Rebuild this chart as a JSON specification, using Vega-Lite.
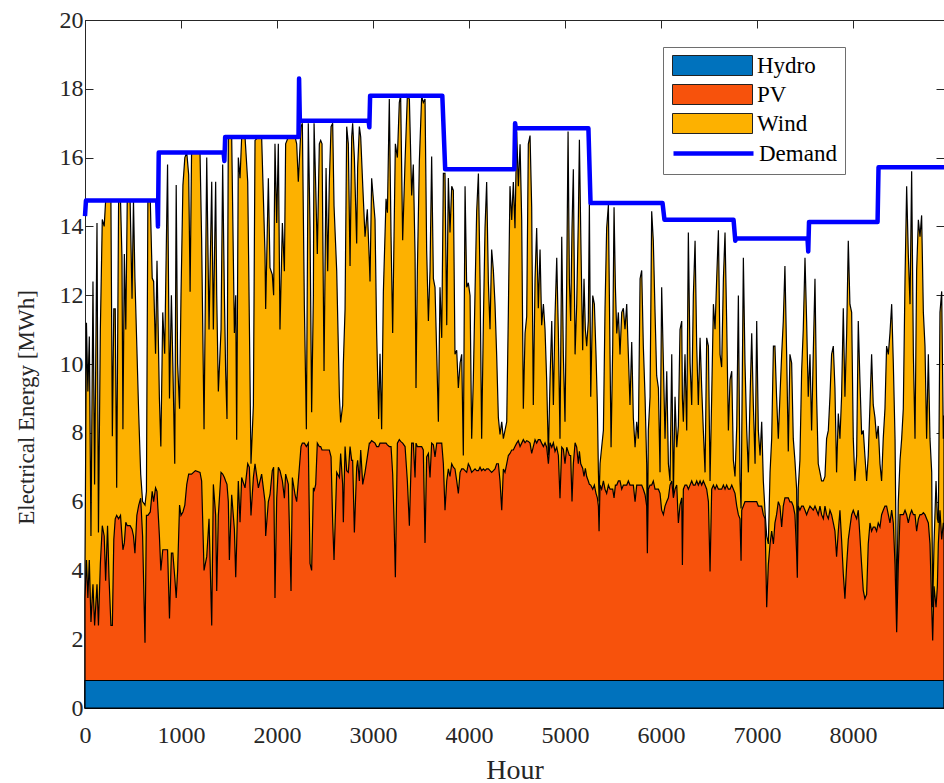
{
  "$schema": "https://vega.github.io/schema/vega-lite/v6.json",
  "width": 859,
  "height": 688,
  "autosize": {"type": "none"},
  "padding": {"left": 85, "top": 20, "right": 0, "bottom": 75},
  "background": "white",
  "config": {
    "view": {"stroke": null},
    "font": "Liberation Serif",
    "axis": {
      "labelFont": "Liberation Serif",
      "titleFont": "Liberation Serif",
      "labelColor": "#262626",
      "titleColor": "#262626",
      "domainColor": "#262626",
      "tickColor": "#262626",
      "grid": false,
      "labelFlush": false,
      "titleFontWeight": "normal"
    }
  },
  "datasets": {
    "gen": [
      {"h":0,"p":3.2,"w":4.2},{"h":15,"p":4.3,"w":11.2},{"h":30,"p":3.2,"w":9.2},{"h":45,"p":4.3,"w":10.8},{"h":62,"p":2.5,"w":5.0},{"h":83,"p":3.6,"w":12.4},{"h":100,"p":2.4,"w":6.5},{"h":125,"p":3.6,"w":14.1},{"h":140,"p":2.4,"w":5.1},{"h":160,"p":4.2,"w":11.0},{"h":180,"p":5.3,"w":14.2},{"h":200,"p":5.0,"w":14.0},{"h":215,"p":3.7,"w":14.75},{"h":235,"p":5.3,"w":14.75},{"h":250,"p":3.8,"w":14.75},{"h":270,"p":2.4,"w":14.75},{"h":285,"p":2.4,"w":7.9},{"h":300,"p":4.9,"w":11.6},{"h":315,"p":5.5,"w":11.6},{"h":330,"p":5.6,"w":6.4},{"h":350,"p":5.5,"w":14.75},{"h":370,"p":5.6,"w":14.75},{"h":385,"p":5.0,"w":13.1},{"h":395,"p":4.6,"w":8.1},{"h":410,"p":4.8,"w":13.2},{"h":425,"p":5.4,"w":11.0},{"h":440,"p":5.3,"w":14.75},{"h":470,"p":5.3,"w":14.75},{"h":490,"p":5.2,"w":11.9},{"h":505,"p":5.0,"w":14.75},{"h":520,"p":4.5,"w":12.5},{"h":540,"p":5.6,"w":10.5},{"h":560,"p":5.9,"w":8.5},{"h":580,"p":6.1,"w":6.8},{"h":600,"p":5.0,"w":6.0},{"h":625,"p":1.9,"w":5.9},{"h":640,"p":5.6,"w":6.3},{"h":655,"p":5.6,"w":14.75},{"h":680,"p":5.7,"w":14.75},{"h":700,"p":6.3,"w":12.5},{"h":715,"p":6.0,"w":12.4},{"h":735,"p":6.4,"w":10.3},{"h":750,"p":6.3,"w":13.0},{"h":775,"p":5.0,"w":9.0},{"h":790,"p":4.0,"w":7.6},{"h":810,"p":4.6,"w":11.5},{"h":830,"p":4.6,"w":10.3},{"h":860,"p":4.6,"w":15.8},{"h":880,"p":2.6,"w":9.0},{"h":900,"p":4.5,"w":12.0},{"h":915,"p":4.5,"w":10.0},{"h":935,"p":3.8,"w":7.1},{"h":950,"p":3.2,"w":15.2},{"h":965,"p":4.0,"w":10.0},{"h":985,"p":5.9,"w":8.7},{"h":1000,"p":5.6,"w":12.0},{"h":1020,"p":5.7,"w":15.2},{"h":1040,"p":5.9,"w":16.0},{"h":1060,"p":6.5,"w":16.15},{"h":1080,"p":6.8,"w":15.5},{"h":1095,"p":6.8,"w":12.1},{"h":1110,"p":6.8,"w":16.15},{"h":1150,"p":6.9,"w":16.15},
      {"h":1198,"p":6.85,"w":16.15},{"h":1215,"p":6.6,"w":13.6},{"h":1240,"p":4.0,"w":8.1},{"h":1268,"p":4.4,"w":16.0},{"h":1292,"p":5.5,"w":11.0},{"h":1320,"p":2.4,"w":15.3},{"h":1337,"p":6.5,"w":11.0},{"h":1361,"p":5.6,"w":15.3},{"h":1372,"p":3.4,"w":12.0},{"h":1389,"p":5.6,"w":9.2},{"h":1417,"p":6.85,"w":11.0},{"h":1434,"p":6.8,"w":15.8},{"h":1452,"p":6.7,"w":12.0},{"h":1465,"p":6.6,"w":9.8},{"h":1479,"p":6.5,"w":8.4},{"h":1493,"p":6.0,"w":16.6},{"h":1504,"p":4.3,"w":16.6},{"h":1528,"p":6.2,"w":16.6},{"h":1556,"p":5.2,"w":10.9},{"h":1570,"p":3.8,"w":12.0},{"h":1580,"p":4.8,"w":7.8},{"h":1597,"p":6.6,"w":16.0},{"h":1615,"p":5.4,"w":15.4},{"h":1632,"p":6.7,"w":16.6},{"h":1667,"p":6.4,"w":16.6},{"h":1695,"p":7.1,"w":15.3},{"h":1712,"p":7.0,"w":11.25},{"h":1729,"p":5.6,"w":7.1},{"h":1754,"p":6.7,"w":8.8},{"h":1771,"p":7.1,"w":16.5},{"h":1806,"p":6.4,"w":16.6},{"h":1840,"p":6.8,"w":16.6},{"h":1875,"p":6.0,"w":13.2},{"h":1882,"p":5.0,"w":11.6},{"h":1910,"p":6.0,"w":15.4},{"h":1927,"p":6.2,"w":12.8},{"h":1951,"p":6.9,"w":12.6},{"h":1965,"p":7.0,"w":12.0},{"h":1979,"p":3.2,"w":16.4},{"h":1997,"p":6.1,"w":14.1},{"h":2014,"p":7.0,"w":16.4},{"h":2031,"p":6.9,"w":11.0},{"h":2056,"p":6.6,"w":14.1},{"h":2077,"p":6.1,"w":12.7},{"h":2090,"p":6.8,"w":16.4},{"h":2118,"p":6.5,"w":16.6},{"h":2146,"p":3.4,"w":16.6},{"h":2160,"p":6.7,"w":16.6},{"h":2188,"p":6.2,"w":16.6},{"h":2205,"p":6.0,"w":16.4},{"h":2222,"p":6.6,"w":15.3},{"h":2250,"p":7.6,"w":16.9},{"h":2264,"p":7.7,"w":17.0},{"h":2285,"p":7.7,"w":11.7},{"h":2306,"p":7.6,"w":8.1},{"h":2326,"p":7.7,"w":17.0},
      {"h":2344,"p":4.2,"w":14.0},{"h":2361,"p":4.0,"w":8.6},{"h":2379,"p":6.4,"w":12.0},{"h":2386,"p":6.3,"w":17.0},{"h":2403,"p":6.5,"w":15.2},{"h":2420,"p":7.7,"w":13.2},{"h":2441,"p":7.6,"w":16.4},{"h":2455,"p":7.6,"w":16.5},{"h":2469,"p":7.5,"w":16.4},{"h":2490,"p":7.5,"w":9.8},{"h":2511,"p":7.5,"w":15.7},{"h":2528,"p":7.5,"w":12.7},{"h":2545,"p":7.5,"w":15.3},{"h":2563,"p":7.3,"w":16.9},{"h":2580,"p":5.4,"w":17.0},{"h":2594,"p":4.3,"w":14.6},{"h":2622,"p":6.85,"w":12.7},{"h":2650,"p":6.7,"w":9.05},{"h":2663,"p":7.4,"w":8.3},{"h":2684,"p":6.5,"w":8.8},{"h":2691,"p":5.4,"w":10.0},{"h":2709,"p":7.6,"w":11.6},{"h":2726,"p":6.9,"w":16.9},{"h":2743,"p":6.85,"w":16.4},{"h":2761,"p":7.6,"w":12.85},{"h":2778,"p":7.2,"w":16.6},{"h":2788,"p":7.2,"w":17.0},{"h":2806,"p":5.1,"w":16.0},{"h":2830,"p":7.0,"w":13.5},{"h":2840,"p":7.2,"w":15.7},{"h":2858,"p":6.6,"w":16.9},{"h":2872,"p":7.5,"w":16.6},{"h":2893,"p":6.5,"w":15.2},{"h":2917,"p":6.85,"w":13.7},{"h":2941,"p":7.3,"w":14.5},{"h":2962,"p":7.7,"w":12.97},{"h":2969,"p":7.7,"w":12.4},{"h":2986,"p":7.77,"w":15.4},{"h":3021,"p":7.7,"w":14.2},{"h":3038,"p":7.6,"w":10.9},{"h":3059,"p":7.6,"w":8.4},{"h":3073,"p":7.7,"w":10.3},{"h":3090,"p":7.7,"w":8.1},{"h":3108,"p":7.7,"w":12.1},{"h":3136,"p":7.7,"w":14.8},{"h":3150,"p":7.65,"w":14.4},{"h":3170,"p":7.6,"w":17.7},{"h":3188,"p":7.6,"w":13.7},{"h":3205,"p":6.8,"w":10.9},{"h":3219,"p":5.5,"w":13.7},{"h":3233,"p":3.8,"w":16.4},{"h":3254,"p":7.7,"w":16.0},{"h":3274,"p":7.8,"w":17.6},{"h":3288,"p":7.75,"w":17.8},{"h":3309,"p":7.7,"w":13.6},{"h":3334,"p":7.6,"w":15.9},{"h":3358,"p":6.6,"w":17.8},{"h":3379,"p":5.3,"w":17.7},{"h":3403,"p":7.7,"w":14.9},{"h":3420,"p":7.7,"w":15.8},{"h":3438,"p":6.7,"w":13.2},{"h":3448,"p":7.7,"w":9.3},{"h":3462,"p":7.6,"w":12.7},{"h":3483,"p":7.6,"w":15.9},{"h":3507,"p":7.6,"w":17.8},{"h":3524,"p":7.5,"w":17.6},{"h":3542,"p":4.8,"w":17.7},{"h":3559,"p":7.3,"w":13.3},{"h":3577,"p":7.4,"w":11.25},
      {"h":3594,"p":6.7,"w":12.72},{"h":3611,"p":7.7,"w":16.03},{"h":3629,"p":7.65,"w":12.48},{"h":3646,"p":7.3,"w":12.23},{"h":3664,"p":7.7,"w":10.28},{"h":3681,"p":7.7,"w":8.32},{"h":3698,"p":7.7,"w":12.23},{"h":3716,"p":7.7,"w":10.76},{"h":3733,"p":7.1,"w":15.54},{"h":3750,"p":5.75,"w":15.54},{"h":3768,"p":6.6,"w":11.13},{"h":3785,"p":6.95,"w":15.41},{"h":3802,"p":6.73,"w":13.82},{"h":3820,"p":7.1,"w":15.17},{"h":3837,"p":7.0,"w":15.05},{"h":3854,"p":6.95,"w":10.28},{"h":3872,"p":6.6,"w":10.4},{"h":3889,"p":6.24,"w":9.3},{"h":3907,"p":6.85,"w":10.03},{"h":3924,"p":6.95,"w":10.28},{"h":3941,"p":6.95,"w":7.34},{"h":3959,"p":6.9,"w":15.17},{"h":3976,"p":6.85,"w":12.23},{"h":3993,"p":7.1,"w":12.36},{"h":4011,"p":7.0,"w":11.99},{"h":4028,"p":6.85,"w":7.83},{"h":4045,"p":6.9,"w":9.54},{"h":4063,"p":6.95,"w":12.11},{"h":4080,"p":6.9,"w":14.44},{"h":4098,"p":6.9,"w":15.54},{"h":4115,"p":7.0,"w":12.48},{"h":4132,"p":6.9,"w":7.83},{"h":4150,"p":6.95,"w":11.25},{"h":4167,"p":6.9,"w":13.95},{"h":4184,"p":6.95,"w":15.29},{"h":4202,"p":6.95,"w":12.36},{"h":4219,"p":6.9,"w":11.01},{"h":4236,"p":6.85,"w":13.33},{"h":4254,"p":6.9,"w":12.72},{"h":4271,"p":6.95,"w":11.74},{"h":4288,"p":7.1,"w":10.28},{"h":4306,"p":7.1,"w":8.44},{"h":4323,"p":6.6,"w":7.95},{"h":4341,"p":5.75,"w":8.32},{"h":4358,"p":6.95,"w":7.83},{"h":4375,"p":6.85,"w":8.07},{"h":4393,"p":7.1,"w":8.32},{"h":4410,"p":7.34,"w":11.5},{"h":4427,"p":7.4,"w":15.17},{"h":4445,"p":7.5,"w":14.19},{"h":4462,"p":7.5,"w":15.29},{"h":4479,"p":7.6,"w":13.95},{"h":4497,"p":7.7,"w":16.76},{"h":4514,"p":7.77,"w":15.17},{"h":4532,"p":7.6,"w":16.39},{"h":4549,"p":7.7,"w":14.19},{"h":4566,"p":7.8,"w":8.7},{"h":4584,"p":7.71,"w":10.89},{"h":4601,"p":7.77,"w":11.38},{"h":4618,"p":7.75,"w":16.39},{"h":4636,"p":7.7,"w":16.64},{"h":4653,"p":7.4,"w":14.56},{"h":4670,"p":7.6,"w":8.81},{"h":4688,"p":7.8,"w":12.48},{"h":4705,"p":7.7,"w":13.95},{"h":4722,"p":7.8,"w":11.62},{"h":4740,"p":7.8,"w":13.33},{"h":4757,"p":7.7,"w":11.13},{"h":4775,"p":7.6,"w":11.74},
      {"h":4792,"p":7.71,"w":11.01},{"h":4809,"p":7.58,"w":9.54},{"h":4827,"p":7.1,"w":7.34},{"h":4844,"p":7.71,"w":9.54},{"h":4862,"p":7.58,"w":11.25},{"h":4879,"p":7.71,"w":8.81},{"h":4896,"p":7.46,"w":11.38},{"h":4914,"p":7.58,"w":13.09},{"h":4931,"p":7.34,"w":10.89},{"h":4948,"p":6.1,"w":7.83},{"h":4966,"p":7.58,"w":13.7},{"h":4983,"p":7.52,"w":10.28},{"h":5000,"p":7.1,"w":8.32},{"h":5018,"p":7.58,"w":12.48},{"h":5032,"p":7.46,"w":16.76},{"h":5046,"p":7.34,"w":12.36},{"h":5059,"p":7.34,"w":11.25},{"h":5073,"p":6.0,"w":13.95},{"h":5087,"p":7.1,"w":15.66},{"h":5105,"p":7.71,"w":10.28},{"h":5122,"p":7.58,"w":11.74},{"h":5139,"p":7.1,"w":14.19},{"h":5150,"p":7.46,"w":16.52},{"h":5164,"p":7.1,"w":13.82},{"h":5184,"p":6.97,"w":10.4},{"h":5198,"p":6.73,"w":12.48},{"h":5212,"p":6.97,"w":11.01},{"h":5226,"p":6.73,"w":10.52},{"h":5243,"p":6.6,"w":11.25},{"h":5254,"p":6.5,"w":14.68},{"h":5268,"p":6.48,"w":9.05},{"h":5289,"p":6.36,"w":11.99},{"h":5306,"p":6.48,"w":11.74},{"h":5323,"p":6.24,"w":10.28},{"h":5337,"p":6.11,"w":8.81},{"h":5348,"p":5.87,"w":6.85},{"h":5355,"p":5.14,"w":6.0},{"h":5365,"p":6.48,"w":7.1},{"h":5382,"p":6.36,"w":7.58},{"h":5400,"p":6.6,"w":8.07},{"h":5417,"p":6.36,"w":11.62},{"h":5434,"p":6.24,"w":13.95},{"h":5452,"p":6.48,"w":14.62},{"h":5469,"p":6.36,"w":10.28},{"h":5480,"p":6.36,"w":7.58},{"h":5497,"p":6.36,"w":10.52},{"h":5511,"p":6.11,"w":14.56},{"h":5525,"p":6.48,"w":12.23},{"h":5539,"p":6.48,"w":10.89},{"h":5556,"p":6.6,"w":11.5},{"h":5573,"p":6.6,"w":10.28},{"h":5591,"p":6.36,"w":11.5},{"h":5608,"p":6.48,"w":11.62},{"h":5625,"p":6.48,"w":11.01},{"h":5643,"p":6.48,"w":11.74},{"h":5660,"p":6.6,"w":10.28},{"h":5677,"p":6.48,"w":8.81},{"h":5695,"p":6.48,"w":10.64},{"h":5712,"p":6.48,"w":8.44},{"h":5730,"p":6.0,"w":7.58},{"h":5747,"p":6.48,"w":8.32},{"h":5764,"p":6.48,"w":7.83},{"h":5782,"p":6.48,"w":12.48},{"h":5799,"p":6.48,"w":12.72},{"h":5816,"p":6.36,"w":10.52},{"h":5834,"p":6.2,"w":9.05},{"h":5851,"p":5.87,"w":7.1},{"h":5858,"p":4.5,"w":4.6},{"h":5868,"p":6.36,"w":8.07},{"h":5886,"p":6.48,"w":9.05},{"h":5903,"p":6.48,"w":14.44},{"h":5920,"p":6.6,"w":13.58},{"h":5938,"p":6.36,"w":11.5},{"h":5955,"p":6.36,"w":9.66},{"h":5973,"p":6.36,"w":9.3},
      {"h":5990,"p":6.24,"w":6.85},{"h":6007,"p":5.75,"w":12.23},{"h":6025,"p":5.62,"w":10.03},{"h":6042,"p":5.87,"w":7.83},{"h":6060,"p":6.0,"w":9.79},{"h":6077,"p":6.11,"w":7.1},{"h":6094,"p":6.48,"w":6.6},{"h":6112,"p":6.6,"w":10.28},{"h":6129,"p":6.11,"w":6.2},{"h":6146,"p":6.36,"w":9.05},{"h":6164,"p":6.48,"w":7.58},{"h":6181,"p":5.38,"w":8.2},{"h":6198,"p":5.9,"w":11.0},{"h":6216,"p":6.11,"w":11.25},{"h":6223,"p":4.16,"w":9.0},{"h":6233,"p":6.36,"w":8.32},{"h":6250,"p":6.48,"w":10.28},{"h":6268,"p":6.48,"w":8.07},{"h":6285,"p":6.36,"w":13.82},{"h":6303,"p":6.48,"w":10.03},{"h":6320,"p":6.6,"w":8.81},{"h":6337,"p":6.48,"w":11.99},{"h":6355,"p":6.48,"w":13.58},{"h":6372,"p":6.6,"w":10.52},{"h":6389,"p":6.48,"w":8.81},{"h":6407,"p":6.6,"w":10.76},{"h":6424,"p":6.48,"w":9.3},{"h":6441,"p":6.6,"w":8.07},{"h":6459,"p":6.48,"w":6.85},{"h":6476,"p":6.36,"w":10.76},{"h":6494,"p":6.0,"w":10.52},{"h":6511,"p":3.97,"w":6.6},{"h":6528,"p":6.36,"w":9.05},{"h":6546,"p":6.48,"w":11.74},{"h":6563,"p":6.36,"w":11.01},{"h":6580,"p":6.48,"w":12.48},{"h":6598,"p":6.36,"w":13.89},{"h":6615,"p":6.36,"w":10.28},{"h":6632,"p":6.36,"w":9.91},{"h":6650,"p":6.48,"w":12.48},{"h":6667,"p":6.36,"w":13.82},{"h":6684,"p":6.48,"w":11.25},{"h":6702,"p":6.36,"w":8.07},{"h":6719,"p":6.36,"w":9.54},{"h":6737,"p":6.48,"w":9.79},{"h":6754,"p":6.36,"w":7.2},{"h":6771,"p":6.24,"w":6.73},{"h":6789,"p":5.87,"w":8.2},{"h":6806,"p":5.62,"w":11.99},{"h":6823,"p":5.5,"w":6.6},{"h":6834,"p":4.28,"w":5.8},{"h":6841,"p":5.75,"w":7.83},{"h":6858,"p":5.87,"w":13.09},{"h":6875,"p":6.0,"w":10.03},{"h":6893,"p":6.0,"w":8.07},{"h":6910,"p":6.0,"w":6.85},{"h":6928,"p":6.0,"w":9.05},{"h":6945,"p":6.0,"w":10.89},{"h":6962,"p":6.0,"w":8.81},{"h":6980,"p":6.0,"w":7.1},{"h":6997,"p":6.0,"w":11.25},{"h":7014,"p":5.87,"w":8.07},{"h":7032,"p":5.87,"w":7.34},{"h":7049,"p":5.87,"w":8.32},{"h":7066,"p":5.62,"w":6.6},{"h":7084,"p":5.5,"w":5.7},{"h":7101,"p":2.93,"w":5.0},{"h":7118,"p":4.16,"w":4.77},{"h":7136,"p":4.77,"w":6.85},{"h":7153,"p":5.14,"w":7.83},{"h":7171,"p":4.77,"w":10.52},
      {"h":7187,"p":5.38,"w":10.52},{"h":7204,"p":5.62,"w":9.05},{"h":7222,"p":6.0,"w":7.83},{"h":7239,"p":5.87,"w":9.05},{"h":7257,"p":5.26,"w":10.28},{"h":7274,"p":5.87,"w":11.25},{"h":7291,"p":6.11,"w":12.85},{"h":7309,"p":6.11,"w":10.28},{"h":7326,"p":6.11,"w":7.46},{"h":7343,"p":5.99,"w":10.28},{"h":7361,"p":5.99,"w":10.03},{"h":7378,"p":5.87,"w":7.83},{"h":7395,"p":5.62,"w":7.2},{"h":7413,"p":4.5,"w":6.36},{"h":7420,"p":3.79,"w":4.0},{"h":7430,"p":5.87,"w":6.4},{"h":7447,"p":5.75,"w":7.2},{"h":7465,"p":5.87,"w":9.79},{"h":7482,"p":5.87,"w":11.0},{"h":7500,"p":5.75,"w":13.09},{"h":7517,"p":5.62,"w":11.25},{"h":7534,"p":5.75,"w":9.05},{"h":7552,"p":5.87,"w":10.28},{"h":7569,"p":5.81,"w":8.07},{"h":7586,"p":5.75,"w":10.28},{"h":7604,"p":5.87,"w":12.48},{"h":7621,"p":5.75,"w":9.05},{"h":7638,"p":5.62,"w":7.1},{"h":7656,"p":5.87,"w":6.85},{"h":7673,"p":5.62,"w":6.6},{"h":7691,"p":5.5,"w":6.6},{"h":7708,"p":5.87,"w":6.73},{"h":7725,"p":5.62,"w":7.83},{"h":7743,"p":5.5,"w":8.07},{"h":7760,"p":5.75,"w":9.05},{"h":7777,"p":5.62,"w":10.28},{"h":7795,"p":5.38,"w":10.52},{"h":7812,"p":5.14,"w":9.3},{"h":7829,"p":4.4,"w":6.85},{"h":7847,"p":5.14,"w":8.56},{"h":7864,"p":5.75,"w":7.83},{"h":7881,"p":4.9,"w":9.05},{"h":7899,"p":3.9,"w":11.62},{"h":7916,"p":3.18,"w":9.05},{"h":7934,"p":4.16,"w":10.89},{"h":7951,"p":4.9,"w":13.58},{"h":7968,"p":5.26,"w":11.74},{"h":7986,"p":5.62,"w":11.5},{"h":8003,"p":5.75,"w":7.83},{"h":8020,"p":5.62,"w":6.6},{"h":8038,"p":5.5,"w":7.34},{"h":8055,"p":5.75,"w":11.25},{"h":8072,"p":5.0,"w":9.54},{"h":8090,"p":4.16,"w":7.95},{"h":8107,"p":3.42,"w":8.07},{"h":8124,"p":3.18,"w":7.34},{"h":8142,"p":3.3,"w":6.6},{"h":8159,"p":4.77,"w":7.34},{"h":8177,"p":5.38,"w":8.81},{"h":8194,"p":5.14,"w":10.28},{"h":8211,"p":5.26,"w":8.81},{"h":8229,"p":5.26,"w":8.44},{"h":8246,"p":5.14,"w":7.83},{"h":8263,"p":5.38,"w":8.2},{"h":8281,"p":5.26,"w":7.1},{"h":8298,"p":5.62,"w":6.6},{"h":8315,"p":5.75,"w":7.83},{"h":8333,"p":5.87,"w":8.7},{"h":8350,"p":5.87,"w":10.52},{"h":8368,"p":5.62,"w":10.28},
      {"h":8385,"p":5.38,"w":10.89},{"h":8403,"p":5.75,"w":11.74},{"h":8420,"p":5.38,"w":10.03},{"h":8438,"p":4.16,"w":7.83},{"h":8455,"p":2.2,"w":2.9},{"h":8472,"p":4.16,"w":6.0},{"h":8490,"p":5.62,"w":7.2},{"h":8507,"p":5.62,"w":7.83},{"h":8524,"p":5.62,"w":8.7},{"h":8542,"p":5.75,"w":12.48},{"h":8559,"p":5.62,"w":15.17},{"h":8576,"p":5.38,"w":13.21},{"h":8594,"p":5.62,"w":11.74},{"h":8611,"p":5.75,"w":15.6},{"h":8629,"p":5.62,"w":10.28},{"h":8646,"p":5.62,"w":7.83},{"h":8663,"p":5.14,"w":12.72},{"h":8681,"p":5.5,"w":14.19},{"h":8698,"p":5.62,"w":13.7},{"h":8715,"p":5.62,"w":14.32},{"h":8733,"p":5.68,"w":11.5},{"h":8750,"p":5.62,"w":10.52},{"h":8767,"p":5.5,"w":7.83},{"h":8785,"p":5.38,"w":10.28},{"h":8802,"p":4.77,"w":7.83},{"h":8820,"p":2.93,"w":6.85},{"h":8830,"p":1.96,"w":2.93},{"h":8844,"p":3.54,"w":4.77},{"h":8865,"p":2.93,"w":6.6},{"h":8879,"p":3.54,"w":5.5},{"h":8889,"p":4.77,"w":5.38},{"h":8906,"p":5.75,"w":11.5},{"h":8924,"p":4.9,"w":12.11},{"h":8941,"p":5.38,"w":7.83},{"h":8948,"p":5.3,"w":8.5}
    ],
    "hydro": [{"h": 0, "hy": 0.8}, {"h": 8948, "hy": 0.8}],
    "demand": [
      {"h":0,"d":14.3},{"h":10,"d":14.75},{"h":752,"d":14.75},{"h":760,"d":14.0},{"h":768,"d":16.15},{"h":1444,"d":16.15},{"h":1452,"d":15.9},{"h":1460,"d":16.6},{"h":2224,"d":16.6},{"h":2230,"d":18.3},{"h":2238,"d":17.07},{"h":2954,"d":17.07},{"h":2962,"d":16.88},{"h":2970,"d":17.8},{"h":3722,"d":17.8},{"h":3752,"d":15.66},{"h":4472,"d":15.66},{"h":4480,"d":17.0},{"h":4488,"d":16.85},{"h":5244,"d":16.85},{"h":5266,"d":14.68},{"h":6016,"d":14.68},{"h":6036,"d":14.19},{"h":6756,"d":14.19},{"h":6774,"d":13.58},{"h":6782,"d":13.65},{"h":7526,"d":13.65},{"h":7534,"d":13.27},{"h":7542,"d":14.13},{"h":8256,"d":14.13},{"h":8266,"d":15.72},{"h":8948,"d":15.72}
    ]
  },
  "resolve": {"axis": {"x": "independent", "y": "independent"}},
  "layer": [
    {
      "data": {"name": "gen"},
      "mark": {"type": "area", "stroke": "black", "strokeWidth": 1.2, "opacity": 1},
      "encoding": {
        "x": {
          "field": "h", "type": "quantitative",
          "scale": {"domain": [0, 8948], "nice": false, "zero": false},
          "axis": {
            "orient": "bottom",
            "values": [0, 1000, 2000, 3000, 4000, 5000, 6000, 7000, 8000],
            "format": "d",
            "tickSize": -8, "tickWidth": 1, "domainWidth": 1,
            "labelFontSize": 24, "labelPadding": 23,
            "title": "Hour", "titleFontSize": 28,
            "titleY": 70, "titleBaseline": "alphabetic"
          }
        },
        "y": {
          "field": "w", "type": "quantitative", "stack": null,
          "scale": {"domain": [0, 20], "nice": false},
          "axis": {
            "orient": "left",
            "values": [0, 2, 4, 6, 8, 10, 12, 14, 16, 18, 20],
            "tickSize": -8, "tickWidth": 1, "domainWidth": 1,
            "labelFontSize": 24, "labelPadding": 10,
            "title": "Electrical Energy [MWh]", "titleFontSize": 23,
            "titleX": -52, "titleY": 387, "titleAngle": 270,
            "titleAlign": "center", "titleBaseline": "alphabetic"
          }
        },
        "fill": {
          "datum": "Wind",
          "scale": {
            "domain": ["Hydro", "PV", "Wind"],
            "range": ["#0072BD", "#F7520C", "#FDB100"]
          },
          "legend": {
            "orient": "none", "legendX": 586, "legendY": 34,
            "title": null,
            "labelFont": "Liberation Serif", "labelFontSize": 23, "labelColor": "#000000",
            "symbolSize": 400, "labelOffset": 63,
            "symbolType": "M-1,-1H7V1H-1Z",
            "symbolStrokeColor": "#222222", "symbolStrokeWidth": 1,
            "padding": 0,
            "rowPadding": 4
          }
        }
      }
    },
    {
      "data": {"name": "gen"},
      "mark": {"type": "area", "stroke": "black", "strokeWidth": 1.2, "opacity": 1},
      "encoding": {
        "x": {
          "field": "h", "type": "quantitative",
          "axis": {
            "orient": "top",
            "values": [0, 1000, 2000, 3000, 4000, 5000, 6000, 7000, 8000],
            "labels": false, "title": null,
            "tickSize": -8, "tickWidth": 1, "domainWidth": 1
          }
        },
        "y": {
          "field": "p", "type": "quantitative", "stack": null,
          "axis": {
            "orient": "right",
            "values": [0, 2, 4, 6, 8, 10, 12, 14, 16, 18, 20],
            "labels": false, "title": null, "domain": false,
            "tickSize": -8, "tickWidth": 1
          }
        },
        "fill": {"datum": "PV"}
      }
    },
    {
      "data": {"name": "hydro"},
      "mark": {"type": "area", "stroke": "black", "strokeWidth": 1.2, "opacity": 1},
      "encoding": {
        "x": {"field": "h", "type": "quantitative", "axis": null},
        "y": {"field": "hy", "type": "quantitative", "stack": null, "axis": null},
        "fill": {"datum": "Hydro"}
      }
    },
    {
      "data": {"name": "demand"},
      "mark": {"type": "line", "strokeWidth": 4.5, "strokeJoin": "round", "strokeCap": "butt"},
      "encoding": {
        "x": {"field": "h", "type": "quantitative", "axis": null},
        "y": {"field": "d", "type": "quantitative", "axis": null},
        "stroke": {
          "datum": "Demand",
          "scale": {"domain": ["Demand"], "range": ["#0000FF"]},
          "legend": {
            "orient": "none", "legendX": 578, "legendY": 27,
            "title": "\u00a0", "titleOrient": "top", "titleFontSize": 1,
            "titlePadding": 85,
            "labelFont": "Liberation Serif", "labelFontSize": 23, "labelColor": "#000000",
            "symbolSize": 400, "labelOffset": 63,
            "symbolType": "M-1,0H7",
            "symbolStrokeWidth": 4.5,
            "strokeColor": "#6e6e6e",
            "padding": 8
          }
        }
      }
    }
  ]
}
